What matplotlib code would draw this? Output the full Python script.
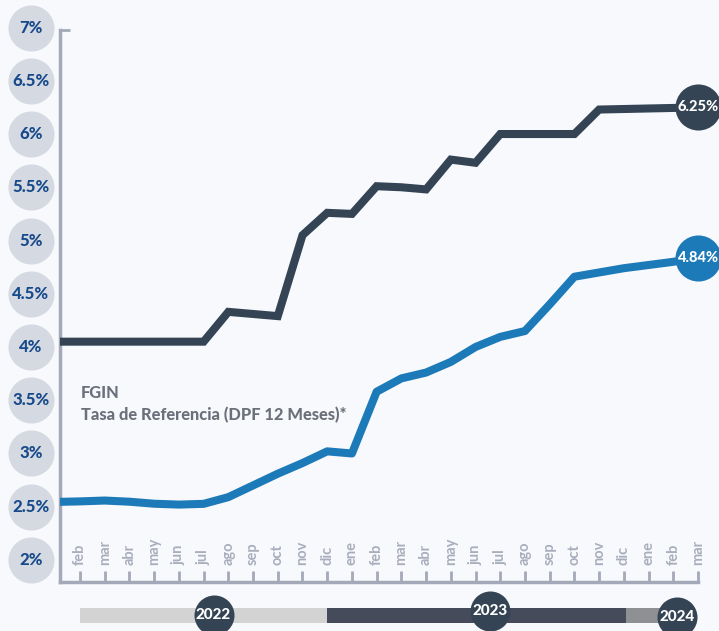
import matplotlib
matplotlib.use("Agg")
import matplotlib.pyplot as plt
from matplotlib.transforms import blended_transform_factory

plt.rcParams['font.family'] = ['Lato', 'DejaVu Sans']

# month index 0 = ene 2022 ... 26 = mar 2024
month_labels = ["ene", "feb", "mar", "abr", "may", "jun", "jul", "ago", "sep", "oct", "nov", "dic",
                "ene", "feb", "mar", "abr", "may", "jun", "jul", "ago", "sep", "oct", "nov", "dic",
                "ene", "feb", "mar"]
months = list(range(len(month_labels)))

fgin = [4.05, 4.05, 4.05, 4.05, 4.05, 4.05, 4.05, 4.33, 4.31, 4.29, 5.05, 5.26, 5.25,
        5.51, 5.50, 5.48, 5.76, 5.73, 6.00, 6.00, 6.00, 6.00, 6.23, 6.235, 6.24, 6.245, 6.25]
tasa = [2.545, 2.55, 2.558, 2.547, 2.528, 2.52, 2.527, 2.59, 2.70, 2.81, 2.91, 3.02, 3.00,
        3.58, 3.705, 3.76, 3.86, 4.00, 4.095, 4.15, 4.40, 4.66, 4.70, 4.74, 4.77, 4.80, 4.84]

y_levels = [2, 2.5, 3, 3.5, 4, 4.5, 5, 5.5, 6, 6.5, 7]
y_labels = ["2%", "2.5%", "3%", "3.5%", "4%", "4.5%", "5%", "5.5%", "6%", "6.5%", "7%"]

years = ["2022", "2023", "2024"]
year_start = [1, 11, 23.1]
year_end = [11, 23.1, 25]
year_label_pos = [6.4, 17.6, 25.15]

bg = "#f7f9fc"
dark = "#344454"
blue = "#1d7ab8"
axis_gray = "#a3a9b9"

fig = plt.figure(figsize=(7.19, 6.31), dpi=100, facecolor=bg)
ax = fig.add_axes([60 / 719, 49 / 631, 638 / 719, 552 / 631])
ax.set_facecolor(bg)

ax.plot(months, fgin, color=dark, lw=5.8, solid_joinstyle="miter", zorder=4)
ax.plot(months, tasa, color=blue, lw=5.8, solid_joinstyle="round", zorder=4)

ax.set_xlim(0.19, 26)
ax.set_ylim(1.793, 6.977)

for s in ["top", "right"]:
    ax.spines[s].set_visible(False)
for s in ["left", "bottom"]:
    ax.spines[s].set_color(axis_gray)
    ax.spines[s].set_linewidth(2.5)

ax.set_xticks(months[1:])
ax.tick_params(axis="x", direction="in", length=8, width=2, color=axis_gray, labelbottom=False)
ax.set_yticks([6.977])
ax.tick_params(axis="y", direction="in", length=7, width=2, color=axis_gray, labelleft=False)

xt = blended_transform_factory(ax.transData, ax.transAxes)
for m in months[1:]:
    ax.text(m, 0.031, month_labels[m], transform=xt, rotation=90, ha="center", va="bottom",
            fontsize=10.5, fontweight="bold", color="#a9aebd")

yt = blended_transform_factory(ax.transAxes, ax.transData)
cx = -29 / 638
ax.scatter([cx] * len(y_levels), y_levels, s=1100, color="#d5d9e1", lw=0,
           transform=yt, clip_on=False, zorder=3)
for v, lab in zip(y_levels, y_labels):
    ax.text(cx, v, lab, transform=yt, ha="center", va="center", fontsize=12,
            fontweight="black", color="#174a8b", zorder=5)

# end value bubbles
for series, col in [(fgin, dark), (tasa, blue)]:
    ax.scatter([months[-1]], [series[-1]], s=1100, color=col, lw=0, clip_on=False, zorder=6)
    ax.text(months[-1], series[-1], f"{series[-1]:.2f}%", ha="center", va="center",
            fontsize=10.5, fontweight="black", color="white", zorder=7, clip_on=False)

ax.text(21 / 638, 0.342, "FGIN", transform=ax.transAxes, ha="left", va="center",
        fontsize=11.8, fontweight="black", color="#6b707b")
ax.text(21 / 638, 0.3025, "Tasa de Referencia (DPF 12 Meses)*", transform=ax.transAxes,
        ha="left", va="center", fontsize=11.8, fontweight="black", color="#6b707b")

# year bar
yr = fig.add_axes([60 / 719, 0, 638 / 719, 36 / 631])
yr.set_xlim(0.19, 26)
yr.set_ylim(0, 36)
yr.axis("off")
bar_colors = ["#d3d3d3", "#454b5a", "#8f9093"]
for s0, s1, c in zip(year_start, year_end, bar_colors):
    yr.barh(16, s1 - s0, left=s0, height=15, color=c, lw=0, zorder=1)
year_y = [16, 20, 14]
for x, yy, lab in zip(year_label_pos, year_y, years):
    yr.scatter([x], [yy], s=830, color=dark, lw=0, clip_on=False, zorder=3)
    yr.text(x, yy, lab, ha="center", va="center", fontsize=11, fontweight="black",
            color="white", zorder=4, clip_on=False)

fig.savefig("out.png", dpi=100, facecolor=bg)
